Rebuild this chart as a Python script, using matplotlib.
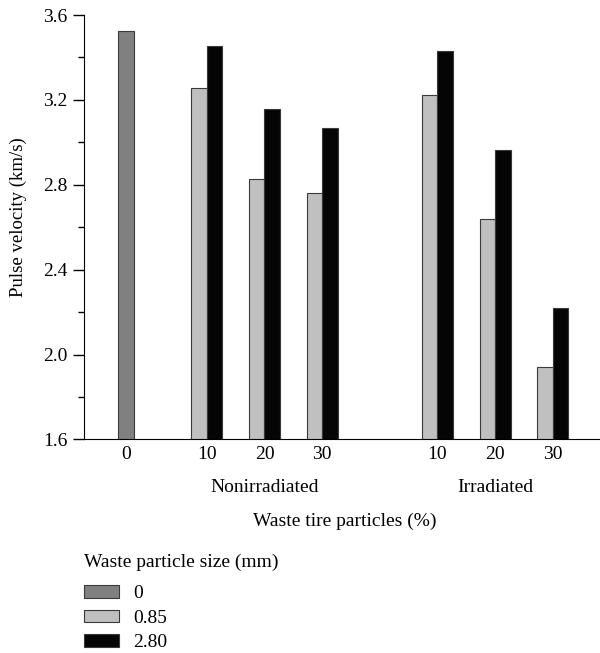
import numpy as np
import matplotlib
matplotlib.use("Agg")
import matplotlib.pyplot as plt
from matplotlib.ticker import MultipleLocator
from matplotlib.transforms import blended_transform_factory

plt.rcParams["font.family"] = ["Liberation Serif", "DejaVu Serif"]
plt.rcParams["font.size"] = 14

# data
control_label = ["0"]
control_value = [3.525]
particle_pct = ["10", "20", "30"]
groups = ["Nonirradiated", "Irradiated"]
size_labels = ["0", "0.85", "2.80"]
# pulse velocity (km/s), rows = groups, cols = particle_pct
v_085 = [[3.258, 2.829, 2.763],
         [3.223, 2.641, 1.943]]
v_280 = [[3.455, 3.157, 3.068],
         [3.432, 2.963, 2.221]]

colors = ["#808080", "#c0c0c0", "#050505"]
edge = "#3a3a3a"

fig = plt.figure(figsize=(6.0, 6.53), dpi=100)
ax = fig.add_axes([0.14, 0.327, 0.86, 0.65])

w = 0.27
group_start = [1.4, 5.4]
xc = [0.0]
ax.bar(0.0, control_value[0], width=w, color=colors[0],
       edgecolor=edge, linewidth=0.8, label=size_labels[0])
trans = blended_transform_factory(ax.transData, ax.transAxes)
for g in range(len(groups)):
    pos = group_start[g] + np.arange(len(particle_pct))
    xc += list(pos)
    ax.bar(pos - w / 2, v_085[g], width=w, color=colors[1], edgecolor=edge,
           linewidth=0.8, label=size_labels[1] if g == 0 else None)
    ax.bar(pos + w / 2, v_280[g], width=w, color=colors[2], edgecolor=edge,
           linewidth=0.8, label=size_labels[2] if g == 0 else None)
    ax.text(pos.mean(), -0.114, groups[g], ha="center", va="center",
            transform=trans)

ax.set_ylim(1.6, 3.6)
ax.set_xlim(-0.73, 8.22)
ax.set_xticks(xc)
ax.set_xticklabels(control_label + particle_pct * 2)
ax.tick_params(axis="x", length=0, pad=5)
ax.yaxis.set_major_locator(MultipleLocator(0.4))
ax.yaxis.set_minor_locator(MultipleLocator(0.2))
ax.yaxis.set_major_formatter(plt.FuncFormatter(lambda v, p: f"{v:.1f}"))
ax.tick_params(axis="y", which="major", direction="out", length=8, width=1, pad=4)
ax.tick_params(axis="y", which="minor", direction="out", length=4, width=1)
ax.spines["top"].set_visible(False)
ax.spines["right"].set_visible(False)

ax.set_ylabel("Pulse velocity (km/s)", fontsize=13.5)
ax.yaxis.set_label_coords(-0.11, 0.524)
ax.set_xlabel("Waste tire particles (%)")
ax.xaxis.set_label_coords(0.506, -0.172)

fig.text(0.14, 1 - 562 / 653, "Waste particle size (mm)", ha="left", va="center")
h, l = ax.get_legend_handles_labels()
leg = fig.legend(h, l, loc="upper left", bbox_to_anchor=(0.14, 0.104),
                 frameon=False, handlelength=1.8, handleheight=0.62,
                 handletextpad=0.72, labelspacing=0.38, borderpad=0,
                 borderaxespad=0)

fig.savefig("out.png", dpi=100)
